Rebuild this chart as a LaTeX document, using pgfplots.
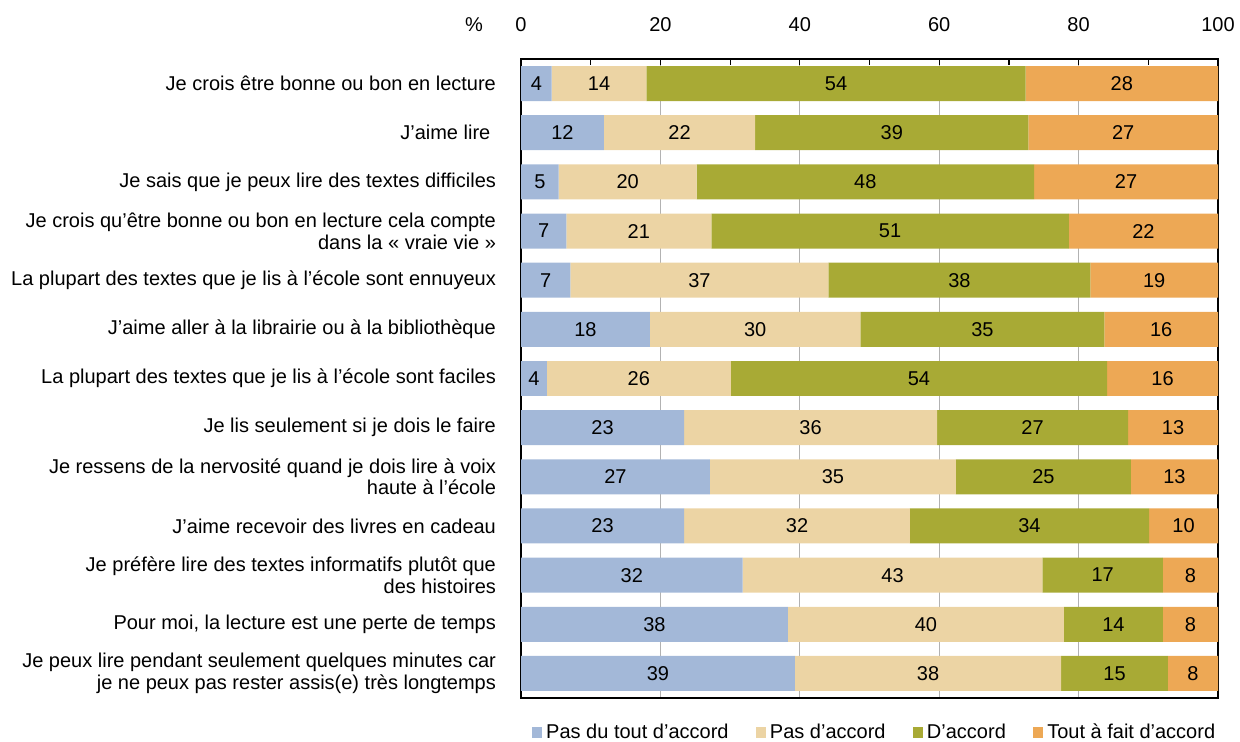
\documentclass[border=0pt]{standalone}
\usepackage{pgfplots}
\usepackage{pgfplotstable}
\pgfplotsset{compat=1.18}
\usepackage{fontspec}
\setmainfont{Liberation Sans}
\definecolor{cA}{RGB}{163,184,216}
\definecolor{cB}{RGB}{236,212,164}
\definecolor{cC}{RGB}{168,170,53}
\definecolor{cD}{RGB}{237,168,85}
\pgfplotstableread{
pos a la b lb c lc d ld
0 4.4 4 13.6 14 54.4 54 27.6 28
1 11.9 12 21.7 22 39.2 39 27.2 27
2 5.4 5 19.8 20 48.4 48 26.4 27
3 6.5 7 20.8 21 51.3 51 21.4 22
4 7.1 7 37.0 37 37.6 38 18.3 19
5 18.5 18 30.2 30 35.0 35 16.3 16
6 3.7 4 26.4 26 54.0 54 15.9 16
7 23.4 23 36.3 36 27.4 27 12.9 13
8 27.1 27 35.3 35 25.1 25 12.5 13
9 23.4 23 32.4 32 34.3 34 9.9 10
10 31.8 32 43.0 43 17.3 17 7.9 8
11 38.3 38 39.6 40 14.2 14 7.9 8
12 39.3 39 38.2 38 15.3 15 7.2 8
}\data
\newcommand{\fs}{\fontsize{10}{10.8}\selectfont}
\begin{document}
\begin{tikzpicture}
\useasboundingbox (0,0) rectangle (620pt,371pt);
\begin{axis}[
  at={(260.5pt,22pt)}, anchor=south west,
  scale only axis, width=348.5pt, height=319.5pt,
  xbar stacked, bar width=0.712,
  xmin=0, xmax=100, ymin=-0.5, ymax=12.5,
  y dir=reverse,
  enlarge x limits=false, enlarge y limits=false,
  xtick={0,20,...,100}, minor xtick={10,30,50,70,90},
  xtick pos=right, xticklabel pos=right,
  tick align=inside,
  major tick length=3pt, minor tick length=3pt,
  every tick/.append style={black, line width=0.6pt},
  xmajorgrids, major grid style={gray!60, line width=0.6pt},
  ytick={0,...,12}, ytick style={draw=none},
  yticklabels={
    Je crois être bonne ou bon en lecture,
    J’aime lire\hspace*{0.28em},
    Je sais que je peux lire des textes difficiles,
    Je crois qu’être bonne ou bon en lecture cela compte\\dans la «~vraie vie~»,
    La plupart des textes que je lis à l’école sont ennuyeux,
    J’aime aller à la librairie ou à la bibliothèque,
    La plupart des textes que je lis à l’école sont faciles,
    Je lis seulement si je dois le faire,
    Je ressens de la nervosité quand je dois lire à voix\\haute à l’école,
    J’aime recevoir des livres en cadeau,
    Je préfère lire des textes informatifs plutôt que\\des histoires,
    {Pour moi, la lecture est une perte de temps},
    Je peux lire pendant seulement quelques minutes car\\je ne peux pas rester assis(e) très longtemps},
  yticklabel style={align=right, font=\fs, xshift=-9pt},
  xticklabel style={anchor=base, yshift=13.5pt, font=\fs},
  axis line style={line width=1.2pt},
  /pgf/number format/assume math mode=true,
  legend columns=4,
  legend style={at={(0.5,0)}, anchor=center, xshift=3pt, yshift=-17.3pt, draw=none, fill=none, font=\fs,
    /tikz/every even column/.append style={column sep=11.5pt}},
  legend image code/.code={\path[#1, draw=none] (0pt,-2.6pt) rectangle (5.2pt,2.6pt);},
  nodes near coords,
  point meta=explicit symbolic,
  every node near coord/.append style={anchor=center, font=\fs, text=black},
  clip=false,
]
\addplot[fill=cA, draw=none] table[x=a, y=pos, meta=la] {\data};
\addplot[fill=cB, draw=none] table[x=b, y=pos, meta=lb] {\data};
\addplot[fill=cC, draw=none] table[x=c, y=pos, meta=lc] {\data};
\addplot[fill=cD, draw=none] table[x=d, y=pos, meta=ld] {\data};
\legend{Pas du tout d’accord, Pas d’accord, D’accord, Tout à fait d’accord}
\node[anchor=base east, font=\fs, xshift=-15.5pt, yshift=13.5pt] at (rel axis cs:0,1) {\%};
\end{axis}
\end{tikzpicture}
\end{document}
